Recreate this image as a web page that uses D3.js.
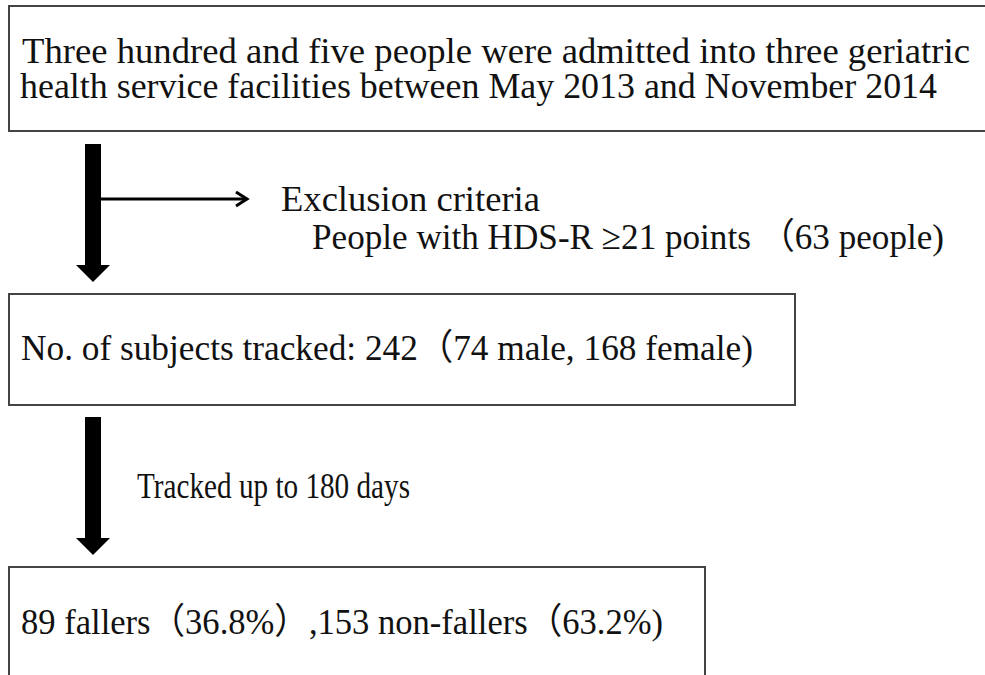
<!DOCTYPE html>
<html>
<head>
<meta charset="utf-8">
<script src="https://cdn.jsdelivr.net/npm/d3@7"></script>
<style>
  html, body { margin: 0; padding: 0; background: #fff; }
  svg { display: block; }
</style>
</head>
<body>
<svg id="chart" width="985" height="675"></svg>
<script>
// flow stages (text of each box)
const topBoxLines = [
  "Three hundred and five people were admitted into three geriatric",
  "health service facilities between May 2013 and November 2014"
];
const middleBoxLines = ["No. of subjects tracked: 242\uFF0874 male, 168 female)"];
const bottomBoxLines = ["89 fallers\uFF0836.8%\uFF09,153 non-fallers\uFF0863.2%)"];

// side notes
const exclusionLines = [
  "Exclusion criteria",
  "People with HDS-R \u226521 points \uFF0863 people)"
];
const trackingLines = ["Tracked up to 180 days"];

const svg = d3.select('#chart');
const font = "Liberation Serif, Noto Sans CJK JP, serif";

svg.append('rect')
  .attr('width', 985).attr('height', 675).attr('fill', '#fff');

// box layout: left/top/width/height plus where each line sits
const boxes = [
  { lines: topBoxLines, x: 9, y: 6, w: 990, h: 125,
    text: [{ x: 22, y: 63, len: 948 }, { x: 20, y: 98, len: 917 }] },
  { lines: middleBoxLines, x: 9, y: 294, w: 786, h: 111,
    text: [{ x: 21, y: 360, len: 732 }] },
  { lines: bottomBoxLines, x: 9, y: 567, w: 696, h: 130,
    text: [{ x: 21, y: 634, len: 642 }] }
];

boxes.forEach(function(b) {
  svg.append('rect')
    .attr('x', b.x).attr('y', b.y)
    .attr('width', b.w).attr('height', b.h)
    .attr('fill', 'none')
    .attr('stroke', '#444')
    .attr('stroke-width', 2);

  b.lines.forEach(function(line, i) {
    svg.append('text')
      .attr('x', b.text[i].x).attr('y', b.text[i].y)
      .attr('textLength', b.text[i].len)
      .attr('lengthAdjust', 'spacingAndGlyphs')
      .style('font-family', font)
      .attr('font-size', 36)
      .attr('fill', '#111')
      .text(line);
  });
});

// side notes
const notes = [
  { line: exclusionLines[0], x: 281, y: 211, len: 259 },
  { line: exclusionLines[1], x: 312, y: 249, len: 632 },
  { line: trackingLines[0], x: 137, y: 498, len: 273 }
];
notes.forEach(function(n) {
  svg.append('text')
    .attr('x', n.x).attr('y', n.y)
    .attr('textLength', n.len)
    .attr('lengthAdjust', 'spacingAndGlyphs')
    .style('font-family', font)
    .attr('font-size', 36)
    .attr('fill', '#111')
    .text(n.line);
});

// thick down arrows between boxes
const line = d3.line();
const downArrows = [
  { top: 144, tip: 282 },
  { top: 417, tip: 555 }
];
const cx = 93, half = 8, headHalf = 17, headH = 17;
downArrows.forEach(function(a) {
  const neck = a.tip - headH;
  svg.append('path')
    .attr('d', line([
      [cx - half, a.top], [cx + half, a.top], [cx + half, neck],
      [cx + headHalf, neck], [cx, a.tip], [cx - headHalf, neck],
      [cx - half, neck]
    ]) + 'Z')
    .attr('fill', '#000');
});

// thin branch arrow to exclusion criteria
svg.append('path')
  .attr('d', line([[cx + half, 199], [246, 199]]))
  .attr('stroke', '#000')
  .attr('stroke-width', 3)
  .attr('fill', 'none');
svg.append('path')
  .attr('d', line([[236, 192], [247, 199], [236, 206]]))
  .attr('stroke', '#000')
  .attr('stroke-width', 3)
  .attr('fill', 'none');
</script>
</body>
</html>
